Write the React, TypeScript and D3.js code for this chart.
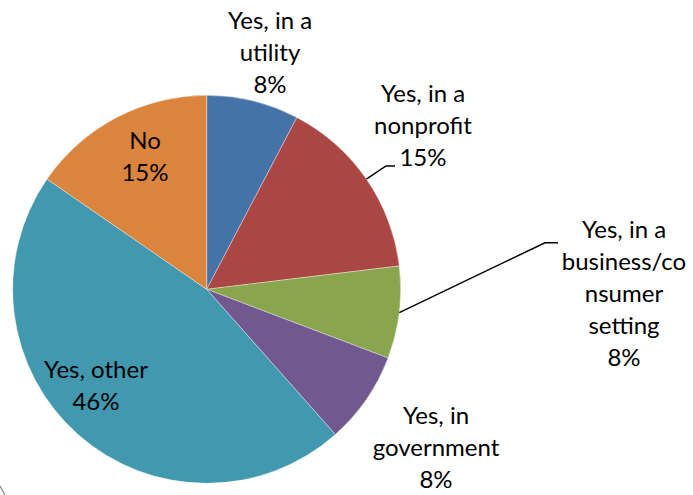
import React from "react";
import * as d3 from "d3";

const categories = [
  "Yes, in a utility",
  "Yes, in a nonprofit",
  "Yes, in a business/consumer setting",
  "Yes, in government",
  "Yes, other",
  "No",
];
const counts = [1, 2, 1, 1, 6, 2];
const colors = ["#4572A7", "#AA4643", "#89A54E", "#71588F", "#4198AF", "#DB843D"];
// label lines (text wrapping as in the original)
const labelLines = [
  ["Yes, in a", "utility"],
  ["Yes, in a", "nonprofit"],
  ["Yes, in a", "business/co", "nsumer", "setting"],
  ["Yes, in", "government"],
  ["Yes, other"],
  ["No"],
];

const W = 693;
const H = 495;
const cx = 206.7;
const cy = 289.3;
const R = 194;
const lineH = 32;

// label anchor: center x, baseline of first line
const labelPos: [number, number][] = [
  [270, 29],
  [423, 101.5],
  [624, 238],
  [436, 424],
  [96, 377.5],
  [145, 148.5],
];
// leader line bend/end points (only for some)
const leaders: (null | { bend: [number, number]; end: [number, number] })[] = [
  null,
  { bend: [386, 166], end: [395, 166] },
  { bend: [545, 242.7], end: [558, 242.7] },
  null,
  null,
  null,
];

export default function App() {
  const total = d3.sum(counts);
  const pie = d3.pie<number>().sort(null).startAngle(0).endAngle(2 * Math.PI);
  const arcs = pie(counts);
  const arc = d3.arc<d3.PieArcDatum<number>>().innerRadius(0).outerRadius(R);
  const font = "Lato, 'Open Sans', sans-serif";

  return (
    <svg
      width={W}
      height={H}
      style={{ position: "absolute", left: 0, top: 0, background: "#fff" }}
      fontFamily={font}
    >
      <g transform={`translate(${cx},${cy})`}>
        {arcs.map((a, i) => (
          <path
            key={categories[i]}
            d={arc(a) || ""}
            fill={colors[i]}
            stroke="#ffffff"
            strokeWidth={0.6}
            strokeOpacity={0.6}
          />
        ))}
      </g>
      {arcs.map((a, i) => {
        const ld = leaders[i];
        if (!ld) return null;
        const mid = (a.startAngle + a.endAngle) / 2;
        const sx = cx + R * Math.sin(mid);
        const sy = cy - R * Math.cos(mid);
        return (
          <polyline
            key={"l" + i}
            points={`${sx},${sy} ${ld.bend[0]},${ld.bend[1]} ${ld.end[0]},${ld.end[1]}`}
            fill="none"
            stroke="#000"
            strokeWidth={1.5}
          />
        );
      })}
      {arcs.map((a, i) => {
        const pct = Math.round((counts[i] / total) * 100) + "%";
        const lines = [...labelLines[i], pct];
        const [x, y] = labelPos[i];
        return (
          <text key={"t" + i} textAnchor="middle" fontSize={24} fill="#000">
            {lines.map((ln, j) => (
              <tspan key={j} x={x} y={y + j * lineH}>
                {ln}
              </tspan>
            ))}
          </text>
        );
      })}
      <path d="M0,486 L5,495" stroke="#888" strokeWidth={1.2} fill="none" />
    </svg>
  );
}
